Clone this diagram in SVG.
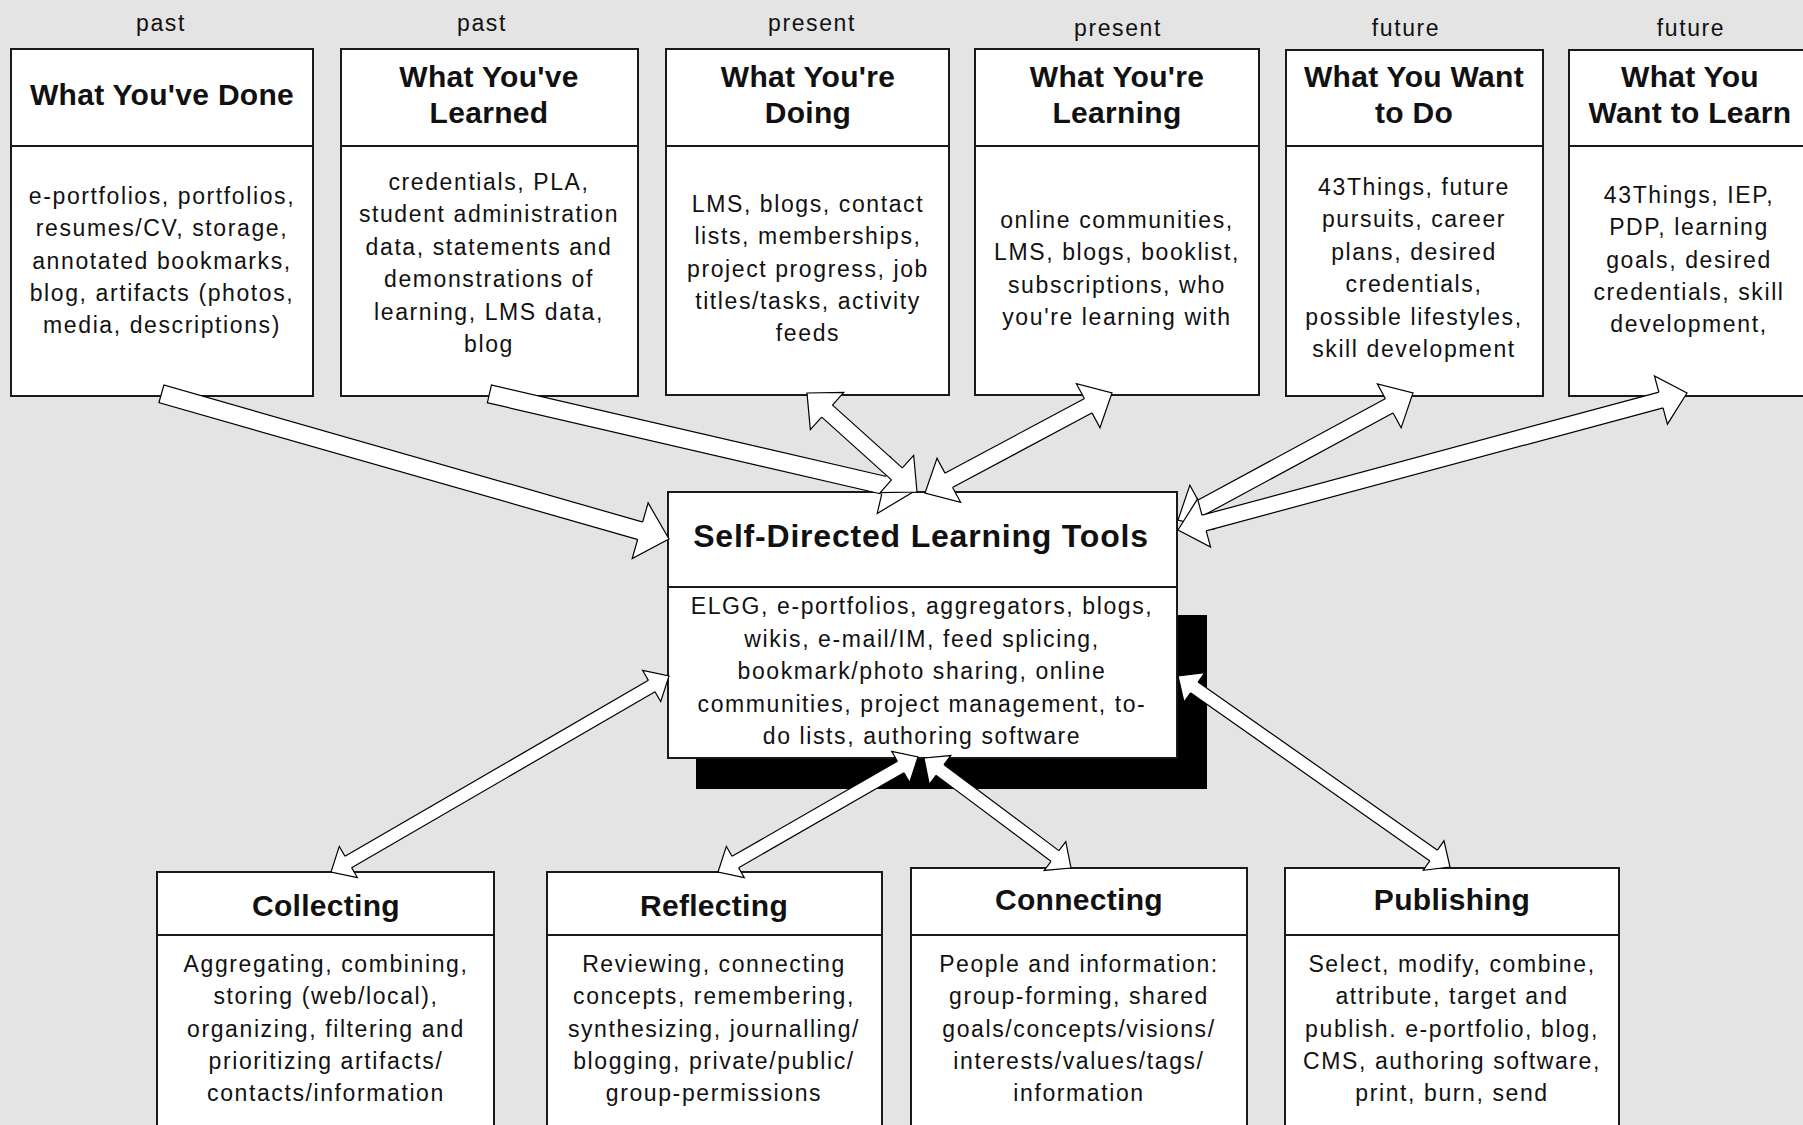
<svg xmlns="http://www.w3.org/2000/svg" width="1803" height="1125" viewBox="0 0 1803 1125">
  <style>
    .bg { fill: #e4e4e4; }
    .box { fill: #ffffff; stroke: #1a1a1a; stroke-width: 2; }
    .div { stroke: #1a1a1a; stroke-width: 2; }
    .shadow { fill: #000000; }
    .ttl { font-family: "Liberation Sans", Arial, sans-serif; font-weight: bold; font-size: 30px; text-anchor: middle; fill: #111; letter-spacing: 0.3px; }
    .main-ttl { font-size: 32px; letter-spacing: 0.8px; }
    .txt { font-family: "Liberation Sans", Arial, sans-serif; font-size: 23px; text-anchor: middle; fill: #111; letter-spacing: 1.6px; }
    .ob { stroke: #000; stroke-width: 19.4; fill: none; }
    .wb { stroke: #fff; stroke-width: 17; fill: none; }
    .om { stroke: #000; stroke-width: 17.4; fill: none; }
    .wm { stroke: #fff; stroke-width: 15; fill: none; }
    .os { stroke: #000; stroke-width: 14.4; fill: none; }
    .ws { stroke: #fff; stroke-width: 12; fill: none; }
    .head { fill: #fff; stroke: #000; stroke-width: 1.2; stroke-linejoin: miter; }
  </style>
  <defs>
    <!-- hollow block arrowheads; the shaft ends 4px inside the head base -->
    <marker id="hb" markerUnits="userSpaceOnUse" viewBox="-6 -31 36 62" markerWidth="36" markerHeight="62" refX="0" refY="0" orient="auto-start-reverse" overflow="visible">
      <path class="head" d="M-4,-9.1 L-4,-29 L26,0 L-4,29 L-4,9.1"/>
    </marker>
    <marker id="hm" markerUnits="userSpaceOnUse" viewBox="-6 -27 32 54" markerWidth="32" markerHeight="54" refX="0" refY="0" orient="auto-start-reverse" overflow="visible">
      <path class="head" d="M-4,-8.1 L-4,-25 L23,0 L-4,25 L-4,8.1"/>
    </marker>
    <marker id="hs" markerUnits="userSpaceOnUse" viewBox="-6 -20 25 40" markerWidth="25" markerHeight="40" refX="0" refY="0" orient="auto-start-reverse" overflow="visible">
      <path class="head" d="M-4,-6.6 L-4,-18 L16,0 L-4,18 L-4,6.6"/>
    </marker>
  </defs>

  <rect class="bg" x="0" y="0" width="1803" height="1125"/>

  <!-- time labels -->
  <g id="time-labels">
    <text class="txt" x="161" y="31">past</text>
    <text class="txt" x="482" y="31">past</text>
    <text class="txt" x="812" y="31">present</text>
    <text class="txt" x="1118" y="36">present</text>
    <text class="txt" x="1406" y="36">future</text>
    <text class="txt" x="1691" y="36">future</text>
  </g>

  <!-- top row -->
  <g id="done">
    <rect class="box" x="11" y="49" width="302" height="347"/>
    <line class="div" x1="11" y1="146" x2="313" y2="146"/>
    <text class="ttl" x="162" y="105">What You've Done</text>
    <text class="txt" x="162" y="204">e-portfolios, portfolios,</text>
    <text class="txt" x="162" y="236.3">resumes/CV, storage,</text>
    <text class="txt" x="162" y="268.5">annotated bookmarks,</text>
    <text class="txt" x="162" y="300.8">blog, artifacts (photos,</text>
    <text class="txt" x="162" y="333">media, descriptions)</text>
  </g>

  <g id="learned">
    <rect class="box" x="341" y="49" width="297" height="347"/>
    <line class="div" x1="341" y1="146" x2="638" y2="146"/>
    <text class="ttl" x="489" y="87">What You've</text>
    <text class="ttl" x="489" y="123">Learned</text>
    <text class="txt" x="489" y="190">credentials, PLA,</text>
    <text class="txt" x="489" y="222.4">student administration</text>
    <text class="txt" x="489" y="254.8">data, statements and</text>
    <text class="txt" x="489" y="287.2">demonstrations of</text>
    <text class="txt" x="489" y="319.6">learning, LMS data,</text>
    <text class="txt" x="489" y="352">blog</text>
  </g>

  <g id="doing">
    <rect class="box" x="666" y="49" width="283" height="346"/>
    <line class="div" x1="666" y1="146" x2="949" y2="146"/>
    <text class="ttl" x="808" y="87">What You're</text>
    <text class="ttl" x="808" y="123">Doing</text>
    <text class="txt" x="808" y="212">LMS, blogs, contact</text>
    <text class="txt" x="808" y="244.3">lists,  memberships,</text>
    <text class="txt" x="808" y="276.5">project progress, job</text>
    <text class="txt" x="808" y="308.8">titles/tasks, activity</text>
    <text class="txt" x="808" y="341">feeds</text>
  </g>

  <g id="learning">
    <rect class="box" x="975" y="49" width="284" height="346"/>
    <line class="div" x1="975" y1="146" x2="1259" y2="146"/>
    <text class="ttl" x="1117" y="87">What You're</text>
    <text class="ttl" x="1117" y="123">Learning</text>
    <text class="txt" x="1117" y="228">online communities,</text>
    <text class="txt" x="1117" y="260.3">LMS, blogs, booklist,</text>
    <text class="txt" x="1117" y="292.6">subscriptions, who</text>
    <text class="txt" x="1117" y="325">you're learning with</text>
  </g>

  <g id="want-to-do">
    <rect class="box" x="1286" y="50" width="257" height="346"/>
    <line class="div" x1="1286" y1="146" x2="1543" y2="146"/>
    <text class="ttl" x="1414" y="87">What You Want</text>
    <text class="ttl" x="1414" y="123">to Do</text>
    <text class="txt" x="1414" y="195">43Things, future</text>
    <text class="txt" x="1414" y="227.4">pursuits, career</text>
    <text class="txt" x="1414" y="259.8">plans, desired</text>
    <text class="txt" x="1414" y="292.2">credentials,</text>
    <text class="txt" x="1414" y="324.6">possible lifestyles,</text>
    <text class="txt" x="1414" y="357">skill development</text>
  </g>

  <g id="want-to-learn">
    <rect class="box" x="1569" y="50" width="240" height="346"/>
    <line class="div" x1="1569" y1="146" x2="1809" y2="146"/>
    <text class="ttl" x="1690" y="87">What You</text>
    <text class="ttl" x="1690" y="123">Want to Learn</text>
    <text class="txt" x="1689" y="203">43Things, IEP,</text>
    <text class="txt" x="1689" y="235.3">PDP, learning</text>
    <text class="txt" x="1689" y="267.5">goals, desired</text>
    <text class="txt" x="1689" y="299.8">credentials,  skill</text>
    <text class="txt" x="1689" y="332">development,</text>
  </g>

  <!-- central hub with its drop block -->
  <g id="tools">
    <rect class="shadow" x="696" y="615" width="511" height="174"/>
    <rect class="box" x="668" y="492" width="509" height="266"/>
    <line class="div" x1="668" y1="587" x2="1177" y2="587"/>
    <text class="ttl main-ttl" x="921" y="547">Self-Directed Learning Tools</text>
    <text class="txt" x="922" y="614">ELGG, e-portfolios, aggregators, blogs,</text>
    <text class="txt" x="922" y="646.5">wikis, e-mail/IM, feed splicing,</text>
    <text class="txt" x="922" y="679">bookmark/photo sharing, online</text>
    <text class="txt" x="922" y="711.5">communities, project management, to-</text>
    <text class="txt" x="922" y="744">do lists, authoring software</text>
  </g>

  <!-- bottom row -->
  <g id="collecting">
    <rect class="box" x="157" y="872" width="337" height="270"/>
    <line class="div" x1="157" y1="935" x2="494" y2="935"/>
    <text class="ttl" x="326" y="916">Collecting</text>
    <text class="txt" x="326" y="972">Aggregating, combining,</text>
    <text class="txt" x="326" y="1004.3">storing (web/local),</text>
    <text class="txt" x="326" y="1036.6">organizing, filtering and</text>
    <text class="txt" x="326" y="1068.9">prioritizing artifacts/</text>
    <text class="txt" x="326" y="1101.2">contacts/information</text>
  </g>

  <g id="reflecting">
    <rect class="box" x="547" y="872" width="335" height="270"/>
    <line class="div" x1="547" y1="935" x2="882" y2="935"/>
    <text class="ttl" x="714" y="916">Reflecting</text>
    <text class="txt" x="714" y="972">Reviewing, connecting</text>
    <text class="txt" x="714" y="1004.3">concepts, remembering,</text>
    <text class="txt" x="714" y="1036.6">synthesizing, journalling/</text>
    <text class="txt" x="714" y="1068.9">blogging, private/public/</text>
    <text class="txt" x="714" y="1101.2">group-permissions</text>
  </g>

  <g id="connecting">
    <rect class="box" x="911" y="868" width="336" height="274"/>
    <line class="div" x1="911" y1="935" x2="1247" y2="935"/>
    <text class="ttl" x="1079" y="910">Connecting</text>
    <text class="txt" x="1079" y="972">People and information:</text>
    <text class="txt" x="1079" y="1004.3">group-forming,  shared</text>
    <text class="txt" x="1079" y="1036.6">goals/concepts/visions/</text>
    <text class="txt" x="1079" y="1068.9">interests/values/tags/</text>
    <text class="txt" x="1079" y="1101.2">information</text>
  </g>

  <g id="publishing">
    <rect class="box" x="1285" y="868" width="334" height="274"/>
    <line class="div" x1="1285" y1="935" x2="1619" y2="935"/>
    <text class="ttl" x="1452" y="910">Publishing</text>
    <text class="txt" x="1452" y="972">Select, modify, combine,</text>
    <text class="txt" x="1452" y="1004.3">attribute, target and</text>
    <text class="txt" x="1452" y="1036.6">publish. e-portfolio, blog,</text>
    <text class="txt" x="1452" y="1068.9">CMS, authoring software,</text>
    <text class="txt" x="1452" y="1101.2">print, burn, send</text>
  </g>

  <!-- connectors: outline stroke, white core, hollow heads -->
  <g id="connectors">
    <!-- done -> tools -->
    <line class="ob" x1="160.85" y1="393.67" x2="644.0" y2="531.85"/>
    <line class="wb" x1="162" y1="394" x2="644.0" y2="531.85" marker-end="url(#hb)"/>
    <!-- learned -> tools -->
    <line class="ob" x1="488.83" y1="393.73" x2="887.67" y2="486.13"/>
    <line class="wb" x1="490" y1="394" x2="887.67" y2="486.13" marker-end="url(#hb)"/>
    <!-- doing <-> tools -->
    <line class="om" x1="824.09" y1="408.38" x2="899.91" y2="476.62"/>
    <line class="wm" x1="824.09" y1="408.38" x2="899.91" y2="476.62" marker-start="url(#hm)" marker-end="url(#hm)"/>
    <!-- learning <-> tools -->
    <line class="om" x1="1091.72" y1="403.84" x2="945.28" y2="482.16"/>
    <line class="wm" x1="1091.72" y1="403.84" x2="945.28" y2="482.16" marker-start="url(#hm)" marker-end="url(#hm)"/>
    <!-- want to do <-> tools -->
    <line class="om" x1="1392.76" y1="403.94" x2="1198.24" y2="509.06"/>
    <line class="wm" x1="1392.76" y1="403.94" x2="1198.24" y2="509.06" marker-start="url(#hm)" marker-end="url(#hm)"/>
    <!-- want to learn <-> tools -->
    <line class="om" x1="1664.79" y1="398.98" x2="1200.21" y2="524.02"/>
    <line class="wm" x1="1664.79" y1="398.98" x2="1200.21" y2="524.02" marker-start="url(#hm)" marker-end="url(#hm)"/>
    <!-- tools <-> collecting -->
    <line class="os" x1="655.16" y1="684.03" x2="344.84" y2="863.97"/>
    <line class="ws" x1="655.16" y1="684.03" x2="344.84" y2="863.97" marker-start="url(#hs)" marker-end="url(#hs)"/>
    <!-- tools <-> reflecting -->
    <line class="os" x1="904.13" y1="764.98" x2="731.87" y2="864.02"/>
    <line class="ws" x1="904.13" y1="764.98" x2="731.87" y2="864.02" marker-start="url(#hs)" marker-end="url(#hs)"/>
    <!-- tools <-> connecting -->
    <line class="os" x1="936.81" y1="767.59" x2="1058.19" y2="858.41"/>
    <line class="ws" x1="936.81" y1="767.59" x2="1058.19" y2="858.41" marker-start="url(#hs)" marker-end="url(#hs)"/>
    <!-- tools <-> publishing -->
    <line class="os" x1="1191.09" y1="685.19" x2="1436.91" y2="857.81"/>
    <line class="ws" x1="1191.09" y1="685.19" x2="1436.91" y2="857.81" marker-start="url(#hs)" marker-end="url(#hs)"/>
  </g>
</svg>
